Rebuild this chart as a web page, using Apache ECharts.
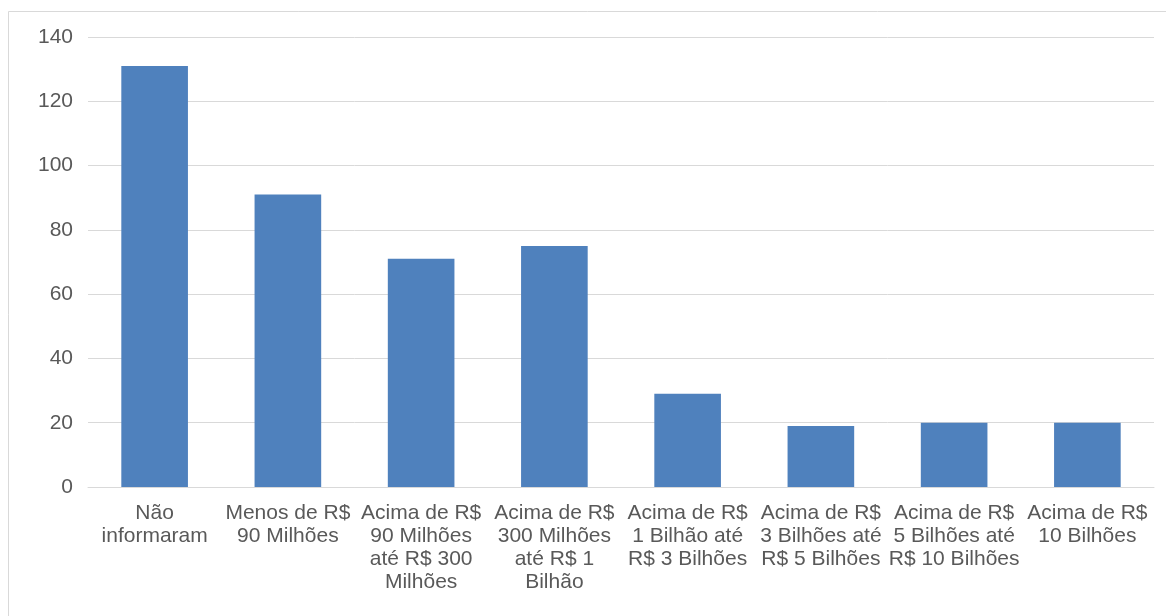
<!DOCTYPE html>
<html>
<head>
<meta charset="utf-8">
<script src="https://cdn.jsdelivr.net/npm/echarts@6/dist/echarts.min.js"></script>
<style>
html,body{margin:0;padding:0;background:#fff;}
#c{width:1166px;height:616px;}
</style>
</head>
<body>
<div id="c"></div>
<script>
const categories = [
  "Não\ninformaram",
  "Menos de R$\n90 Milhões",
  "Acima de R$\n90 Milhões\naté R$ 300\nMilhões",
  "Acima de R$\n300 Milhões\naté R$ 1\nBilhão",
  "Acima de R$\n1 Bilhão até\nR$ 3 Bilhões",
  "Acima de R$\n3 Bilhões até\nR$ 5 Bilhões",
  "Acima de R$\n5 Bilhões até\nR$ 10 Bilhões",
  "Acima de R$\n10 Bilhões"
];
const values = [131, 91, 71, 75, 29, 19, 20, 20];
const yMin = 0, yMax = 140, yStep = 20;

const chart = echarts.init(document.getElementById('c'), null, {renderer: 'canvas'});
chart.setOption({
  animation: false,
  backgroundColor: '#ffffff',
  graphic: [{
    type: 'rect',
    shape: {x: 8.5, y: 11.5, width: 1200, height: 700},
    style: {fill: 'none', stroke: '#d9d9d9', lineWidth: 1},
    silent: true
  }],
  grid: {left: 88, right: 12, top: 37, bottom: 129, containLabel: false},
  xAxis: {
    type: 'category',
    data: categories,
    axisLine: {show: true, lineStyle: {color: '#d9d9d9', width: 1}},
    axisTick: {show: false},
    axisLabel: {
      interval: 0,
      margin: 15,
      color: '#595959',
      fontFamily: '"Liberation Sans", Arial, sans-serif',
      fontSize: 21,
      lineHeight: 23,
      align: 'center'
    }
  },
  yAxis: {
    type: 'value',
    min: yMin, max: yMax, interval: yStep,
    axisLine: {show: false},
    axisTick: {show: false},
    splitLine: {lineStyle: {color: '#d9d9d9', width: 1}},
    axisLabel: {
      margin: 15,
      color: '#595959',
      fontFamily: '"Liberation Sans", Arial, sans-serif',
      fontSize: 21
    }
  },
  series: [{
    type: 'bar',
    data: values,
    barWidth: '50%',
    itemStyle: {color: '#4f81bd'}
  }]
});
</script>
</body>
</html>
